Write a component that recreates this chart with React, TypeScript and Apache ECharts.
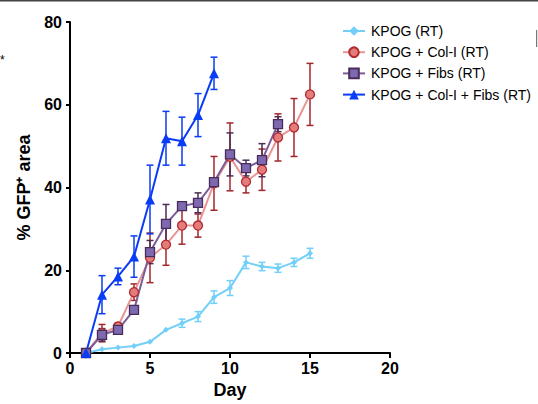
import React, { useEffect, useRef } from "react";
import * as echarts from "echarts";

const kpogDays = [1, 2, 3, 4, 5, 6, 7, 8, 9, 10, 11, 12, 13, 14, 15];
const kpog = [0, 0.9, 1.3, 1.7, 2.7, 5.6, 7.2, 8.8, 13.5, 15.7, 21.9, 20.9, 20.5, 21.9, 24.1];
const kpogErr = [0, 0, 0, 0, 0, 0, 1, 1.2, 1.5, 1.8, 1.5, 1, 1, 1, 1.2];

const colIDays = [1, 2, 3, 4, 5, 6, 7, 8, 9, 10, 11, 12, 13, 14, 15];
const colI = [0, 4.8, 6.4, 14.7, 23, 26.2, 30.8, 30.8, 41, 47.4, 41.4, 44.3, 52.1, 54.5, 62.5];
const colIErr = [0, 2.1, 0.8, 2, 6, 5, 4.5, 2.8, 6.5, 8.2, 2.7, 5, 5.7, 7, 7.5];

const fibsDays = [1, 2, 3, 4, 5, 6, 7, 8, 9, 10, 11, 12, 13];
const fibs = [0, 4.4, 5.6, 10.4, 24.4, 31.2, 35.5, 36.3, 41.3, 48, 44.7, 46.6, 55.3];
const fibsErr = [0, 1.5, 1, 1, 2.8, 4.7, 1, 2.4, 1, 5.2, 1.9, 4, 1.8];

const bothDays = [1, 2, 3, 4, 5, 6, 7, 8, 9];
const both = [0, 14.1, 18.5, 23.3, 37.1, 51.9, 51.2, 57.5, 67.6];
const bothErr = [0, 4.6, 2, 5, 8.3, 6.5, 5.8, 5.2, 3.9];

const names = ["KPOG (RT)", "KPOG + Col-I (RT)", "KPOG + Fibs (RT)", "KPOG + Col-I + Fibs (RT)"];
const xTicks = [0, 20, 5];
const yTicks = [0, 80, 20];

const FONT = "Liberation Sans, Arial, sans-serif";

function errData(days: number[], vals: number[], errs: number[]) {
  return days
    .map((d, i) => [d, vals[i] - errs[i], vals[i] + errs[i]])
    .filter((_, i) => errs[i] > 0);
}

function errSeries(name: string, data: number[][], color: string) {
  return {
    name,
    type: "custom",
    data,
    encode: { x: 0, y: [1, 2] },
    renderItem: (params: any, api: any) => {
      const x = api.value(0);
      const lo = api.value(1);
      const hi = api.value(2);
      const p1 = api.coord([x, hi]);
      const p2 = api.coord([x, lo]);
      const w = 3.5;
      const st = { stroke: color, lineWidth: 1.5 };
      return {
        type: "group",
        children: [
          { type: "line", shape: { x1: p1[0], y1: p1[1], x2: p2[0], y2: p2[1] }, style: st },
          { type: "line", shape: { x1: p1[0] - w, y1: p1[1], x2: p1[0] + w, y2: p1[1] }, style: st },
          { type: "line", shape: { x1: p2[0] - w, y1: p2[1], x2: p2[0] + w, y2: p2[1] }, style: st },
        ],
      };
    },
  };
}

function lineSeries(name: string, days: number[], vals: number[], symbol: string, size: number, lineColor: string, fill: string, border: string, bw: number) {
  return {
    name,
    type: "line",
    data: days.map((d, i) => [d, vals[i]]),
    symbol,
    symbolSize: size,
    showSymbol: true,
    lineStyle: { color: lineColor, width: 2 },
    itemStyle: { color: fill, borderColor: border, borderWidth: bw },
  };
}

export default function App() {
  const ref = useRef<HTMLDivElement>(null);
  useEffect(() => {
    if (!ref.current) return;
    const chart = echarts.init(ref.current, null, { renderer: "svg" });
    chart.setOption({
      animation: false,
      backgroundColor: "#ffffff",
      grid: { left: 70, right: 148, top: 22, bottom: 47 },
      legend: {
        data: names,
        orient: "vertical",
        left: 337,
        top: 19,
        itemWidth: 22,
        itemHeight: 12,
        itemGap: 7.2,
        textStyle: { fontFamily: FONT, fontSize: 14, color: "#000", padding: [0, 0, 0, 1] },
      },
      xAxis: {
        type: "value",
        min: xTicks[0],
        max: xTicks[1],
        interval: xTicks[2],
        name: "Day",
        nameLocation: "middle",
        nameGap: 28,
        nameTextStyle: { fontFamily: FONT, fontSize: 18, fontWeight: "bold", color: "#000" },
        axisLine: { lineStyle: { color: "#000", width: 2 } },
        axisTick: { show: true, length: 5, lineStyle: { color: "#000", width: 2 } },
        axisLabel: { fontFamily: FONT, fontSize: 16, fontWeight: "bold", color: "#000", margin: 7 },
        splitLine: { show: false },
      },
      yAxis: {
        type: "value",
        min: yTicks[0],
        max: yTicks[1],
        interval: yTicks[2],
        name: "% GFP\u207A area",
        nameLocation: "middle",
        nameRotate: 90,
        nameGap: 36,
        nameTextStyle: { fontFamily: FONT, fontSize: 18, fontWeight: "bold", color: "#000" },
        axisLine: { show: true, lineStyle: { color: "#000", width: 2 } },
        axisTick: { show: true, length: 4, lineStyle: { color: "#000", width: 2 } },
        axisLabel: { fontFamily: FONT, fontSize: 16, fontWeight: "bold", color: "#000", margin: 8 },
        splitLine: { show: false },
      },
      graphic: [
        { type: "rect", left: 0, top: 0, shape: { width: 538, height: 1.5 }, style: { fill: "#444" } },
        { type: "text", left: 0, top: 54, style: { text: "*", fontSize: 12, fontFamily: FONT, fill: "#000" } },
        { type: "rect", left: 536, top: 30, shape: { width: 1.2, height: 17 }, style: { fill: "#777" } },
      ],
      series: [
        errSeries("e0", errData(kpogDays, kpog, kpogErr), "#72cff7"),
        lineSeries(names[0], kpogDays, kpog, "diamond", 6, "#72cff7", "#72cff7", "#72cff7", 0),
        errSeries("e1", errData(colIDays, colI, colIErr), "#a3262c"),
        lineSeries(names[1], colIDays, colI, "circle", 9, "#e99595", "#e57c7c", "#b02a2e", 1.3),
        errSeries("e2", errData(fibsDays, fibs, fibsErr), "#4b2d55"),
        lineSeries(names[2], fibsDays, fibs, "rect", 9, "#7a5c9b", "#7d69b0", "#4a2c5a", 1.3),
        errSeries("e3", errData(bothDays, both, bothErr), "#0a3cf5"),
        lineSeries(names[3], bothDays, both, "triangle", 10, "#0a3cf5", "#0a3cf5", "#0a3cf5", 0),
      ],
    });
    return () => chart.dispose();
  }, []);
  return <div ref={ref} style={{ position: "fixed", left: 0, top: 0, width: 538, height: 404 }} />;
}
